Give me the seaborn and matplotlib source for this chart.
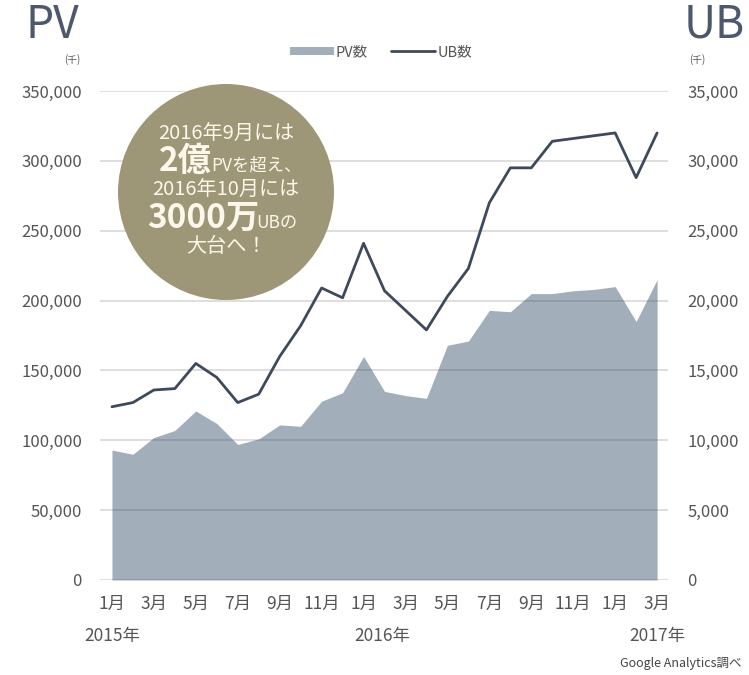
import matplotlib
matplotlib.use("Agg")
import matplotlib.pyplot as plt
import seaborn as sns
import numpy as np
import pandas as pd
from matplotlib.patches import Patch, Ellipse
from matplotlib.lines import Line2D

# ---- data ----
months = ["2015-01","2015-02","2015-03","2015-04","2015-05","2015-06","2015-07","2015-08","2015-09",
          "2015-10","2015-11","2015-12","2016-01","2016-02","2016-03","2016-04","2016-05","2016-06",
          "2016-07","2016-08","2016-09","2016-10","2016-11","2016-12","2017-01","2017-02","2017-03"]
pv = [93000, 90000, 102000, 107000, 121000, 112000, 97000, 101000, 111000,
      110000, 128000, 134000, 160000, 135000, 132000, 130000, 168000, 171000,
      193000, 192000, 205000, 205000, 207000, 208000, 210000, 185000, 215000]
ub = [12400, 12700, 13600, 13700, 15500, 14500, 12700, 13300, 16000,
      18200, 20900, 20200, 24100, 20700, 19300, 17900, 20300, 22300,
      27000, 29500, 29500, 31400, 31600, 31800, 32000, 28800, 32000]
tick_labels = ["1月","3月","5月","7月","9月","11月","1月","3月","5月","7月","9月","11月","1月","3月"]
year_labels = ["2015年", "2016年", "2017年"]
pv_ticks = [0, 50000, 100000, 150000, 200000, 250000, 300000, 350000]
ub_ticks = [0, 5000, 10000, 15000, 20000, 25000, 30000, 35000]

df = pd.DataFrame({"month": months, "PV": pv, "UB": ub})
df["idx"] = np.arange(len(df))

sns.set_theme(style="white")
plt.rcParams["font.family"] = ["Noto Sans CJK JP", "DejaVu Sans"]

AREA = "#a3aebb"
LINE = "#3e4a5b"
TXT = "#555555"
TITLE = "#4d586c"
CIRCLE = "#9d9677"

fig = plt.figure(figsize=(7.49, 6.75), dpi=100)
ax = fig.add_axes([100/749, 1-580/675, 568/749, 489/675])
ax.set_facecolor("none")

ax.fill_between(df["idx"], 0, df["PV"], color=AREA, linewidth=0, zorder=1)
ax.set_ylim(0, 350000)
ax.set_xlim(-0.57, 26.52)
ax.set_yticks(pv_ticks)
ax.set_yticklabels([f"{v:,}" for v in pv_ticks], fontsize=12, color=TXT)
ax.yaxis.grid(True, color="#3c3c48", alpha=0.2, linewidth=1.2, zorder=2)
ax.set_axisbelow(False)
ax.set_xticks(df["idx"][::2])
ax.set_xticklabels(tick_labels, fontsize=12.5, color=TXT)
ax.tick_params(axis="both", length=0)
ax.tick_params(axis="y", pad=13)
ax.tick_params(axis="x", pad=11)
for s in ax.spines.values():
    s.set_visible(False)

ax2 = ax.twinx()
sns.lineplot(data=df, x="idx", y="UB", ax=ax2, color=LINE, linewidth=2, zorder=3)
ax2.set_ylim(0, 35000)
ax2.set_yticks(ub_ticks)
ax2.set_yticklabels([f"{v:,}" for v in ub_ticks], fontsize=12, color=TXT)
ax2.set_ylabel("")
ax2.set_xlabel("")
ax.set_xlabel("")
ax2.tick_params(axis="y", length=0, pad=14)
for s in ax2.spines.values():
    s.set_visible(False)
ax2.grid(False)

# year labels
for xi, lab in zip([0, 12.9, 26], year_labels):
    ax.text(xi, -0.115, lab, transform=ax.get_xaxis_transform(), ha="center", va="center",
            fontsize=12.5, color=TXT)

# titles
fig.text(25/749, 1-25/675, "PV", fontsize=32, color=TITLE, ha="left", va="center")
fig.text(745/749, 1-25/675, "UB", fontsize=32, color=TITLE, ha="right", va="center")
fig.text(72/749, 1-60/675, "(千)", fontsize=7, color=TXT, ha="center", va="center")
fig.text(697/749, 1-60/675, "(千)", fontsize=7, color=TXT, ha="center", va="center")
fig.text(741/749, 1-663/675, "Google Analytics調べ", fontsize=9, color="#444444", ha="right", va="center")

# legend
handles = [Patch(facecolor=AREA, edgecolor="none", label="PV数"),
           Line2D([0], [0], color=LINE, linewidth=2, label="UB数")]
fig.legend(handles=handles, loc="center", bbox_to_anchor=(381/749, 1-52/675), ncol=2, frameon=False,
           fontsize=10.5, handlelength=3.0, handleheight=0.5, columnspacing=1.6, handletextpad=0.15,
           labelcolor=TXT)

# circle callout
cx, cy, r = 226, 192, 108
fig.add_artist(Ellipse((cx/749, 1-cy/675), 2*r/749, 2*r/675, transform=fig.transFigure,
                       facecolor=CIRCLE, edgecolor="none", zorder=5))
W = "#fbf7ea"
def ft(x, y, s, size, bold=False, ha="center"):
    fig.text(x/749, 1-y/675, s, fontsize=size, color=W, ha=ha, va="baseline",
             fontweight="bold" if bold else "normal", zorder=6)
ft(226, 140, "2016年9月には", 14.5)
ft(159, 171, "2億", 24, bold=True, ha="left")
ft(211, 171, "PVを超え、", 12.5, ha="left")
ft(226, 196, "2016年10月には", 14.5)
ft(147, 228, "3000万", 24, bold=True, ha="left")
ft(256, 228, "UBの", 12.5, ha="left")
ft(226, 252, "大台へ！", 14.5)

fig.savefig("out.png", dpi=100)
